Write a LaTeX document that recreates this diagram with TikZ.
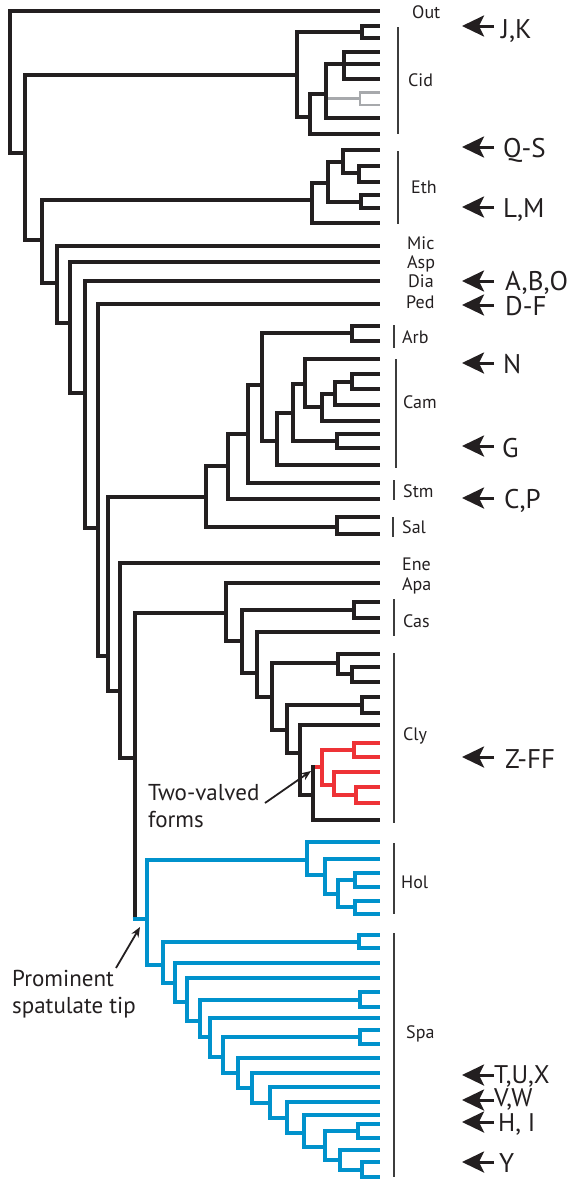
\documentclass[tikz,border=0pt]{standalone}
\usepackage{fontspec}
\setmainfont{PT Sans}
\usetikzlibrary{arrows.meta}
\definecolor{ink}{HTML}{231F20}
\definecolor{sky}{HTML}{0092CC}
\definecolor{flame}{HTML}{EE3236}
\definecolor{ash}{HTML}{A7A9AC}
\definecolor{barc}{HTML}{3C3C3C}

% rectangular cladogram edges: parent |- child
\newcommand\kids[3][]{\foreach \c in {#3}{\draw[br,#1] (#2) |- (\c);}}
% clade bar beside the tips
\newcommand\cladebar[3]{\draw[cbar] (#1,#2) -- (#1,#3);}
% arrow pointing at a tip with a letter label
\newcommand\lettermark[6][]{%
  \coordinate (#2h) at (462,#3);
  \coordinate (#2t) at (494,#3);
  \node[big,#1] (#2) at (#4,#5) {#6};
  \draw[ptr] (#2t) -- (#2h);}

\begin{document}
\begin{tikzpicture}[x=1pt,y=-1pt,
  br/.style={line width=4.7pt, draw=ink, line join=miter},
  cbar/.style={line width=2.4pt, draw=barc},
  small/.style={font=\fontsize{18}{20}\selectfont, text=ink, inner sep=0pt,
    text height=12.6pt, text depth=0pt, anchor=west},
  big/.style={font=\fontsize{27}{30}\selectfont, text=ink, inner sep=0pt,
    text height=18.9pt, text depth=0pt, anchor=west},
  tight/.style={font=\fontsize{25.5}{28}\selectfont, text height=17.8pt},
  note/.style={font=\fontsize{23}{27}\selectfont, text=ink, inner sep=0pt, anchor=base west},
  ptr/.style={line width=3pt, draw=ink, -{Stealth[length=22pt, width=21pt, inset=5pt]}},
  noteptr/.style={line width=1.8pt, draw=ink, -{Stealth[length=10pt, width=8pt]}},
]
\useasboundingbox (0,0) rectangle (569,1181);

% ---- tips ----
\foreach \n/\y in {tOut/11, tC1/26, tC2/38, tC3/52, tC4/64, tC5/79, tG1/92.5, tG2/105,
  tC6/118, tC7/134, tE1/150, tE2/166, tE3/182, tE4/195, tE5/208, tE6/223,
  tMic/246, tAsp/262, tDia/281, tPed/304, tA1/326, tA2/341,
  tM1/359, tM2/374, tM3/389, tM4/405, tM5/421, tM6/434, tM7/448, tM8/465,
  tS1/483, tS2/499, tL1/517, tL2/534, tEne/563, tApa/583,
  tK1/602, tK2/618, tK3/632, tY1/654, tY2/667, tY3/682, tY4/697, tY5/713, tY6/725,
  tR1/743, tR2/757, tR3/772, tR4/787, tR5/803, tY7/820,
  tH1/842, tH2/859, tH3/873, tH4/887, tH5/901, tH6/914,
  tP1/935, tP2/948, tP3/963, tP4/978, tP5/992, tP6/1007, tP7/1018, tP8/1030,
  tP9/1044, tP10/1058, tP11/1073, tP12/1087, tP13/1102, tP14/1115, tP15/1124,
  tP16/1138, tP17/1150, tP18/1162, tP19/1177}
  \coordinate (\n) at (380,\y);

% ---- internal nodes ----
\foreach \n/\x/\y in {
  r/10/80, n1/25/153, nCid/297/75, c1/362/32, c2/310/117, c3/326/94, c4/344/64, g/360/98.5,
  n2/42/240, nEth/312/200, e1/328/183, e2/343/162, e4/359/173, e3/361/202,
  n3/57/283, n4/70/323, n5/85/393, n6/98/528, n7/108/656,
  nAS/206/497, nCS/228/466, nCam/248/434, n10/262/385, nArb/352/333, n11/277/441,
  n12/293/413, n13/305/384, n14/322/407, n15/335/394, nCh2/352/382, nCh1/337/441,
  nSal/337/527,
  n8/120/691, n9/135/758, nCC/226/613, n16/242/641, nCas/354/610, n17/257/673,
  n18/272/697, n19/338/663, nCh3/352/674, n20/287/730, nCh4/362/705, n21/300/753,
  n22/313/795, nRed/322/767, nR1/354/750, nR2/334/785, nR3/356/795,
  nB/147/919, nHol/307/860, h1/325/875, h2/338/894, hc1/355/880, hc2/355/907,
  nSpa/163/965, sc1/359/942, s1/175/983, s2/187/1002, s3/200/1021, sc2/360/1000,
  s4/210/1037, s5/223/1057, sc3/360/1037, s6/238/1073, s7/252/1088, s8/270/1103,
  s9/287/1118, s10/304/1133, s11/325/1147, sc4/358/1131, s12/340/1160, sc5/362/1170}
  \coordinate (\n) at (\x,\y);

% ---- outgroup and Cid ----
\kids{r}{tOut,n1}
\kids{n1}{nCid,n2}
\kids{nCid}{c1,c2}
\kids{c1}{tC1,tC2}
\kids{c2}{c3,tC7}
\draw[br,line width=2.8pt,draw=ash] (c3 |- g) -- (g);
\kids[line width=2.8pt,draw=ash]{g}{tG1,tG2}
\kids{c3}{c4,tC6}
\kids{c4}{tC3,tC4,tC5}

% ---- Eth and the backbone ----
\kids{n2}{nEth,n3}
\kids{nEth}{e1,tE6}
\kids{e1}{e2,e3}
\kids{e2}{tE1,e4}
\kids{e4}{tE2,tE3}
\kids{e3}{tE4,tE5}
\kids{n3}{tMic,n4}
\kids{n4}{tAsp,n5}
\kids{n5}{tDia,n6}
\kids{n6}{tPed,n7}
\kids{n7}{nAS,n8}

% ---- Arb, Cam, Stm, Sal ----
\kids{nAS}{nCS,nSal}
\kids{nCS}{nCam,tS2}
\kids{nCam}{n10,tS1}
\kids{n10}{nArb,n11}
\kids{nArb}{tA1,tA2}
\kids{n11}{n12,tM8}
\kids{n12}{n13,nCh1}
\kids{n13}{tM1,n14}
\kids{n14}{n15,tM5}
\kids{n15}{nCh2,tM4}
\kids{nCh2}{tM2,tM3}
\kids{nCh1}{tM6,tM7}
\kids{nSal}{tL1,tL2}

% ---- Ene, Apa, Cas, Cly ----
\kids{n8}{tEne,n9}
\kids{n9}{nCC}
\kids{nCC}{tApa,n16}
\kids{n16}{nCas,n17}
\kids{nCas}{tK1,tK2}
\kids{n17}{tK3,n18}
\kids{n18}{n19,n20}
\kids{n19}{tY1,nCh3}
\kids{nCh3}{tY2,tY3}
\kids{n20}{nCh4,n21}
\kids{nCh4}{tY4,tY5}
\kids{n21}{tY6,n22}
\kids{n22}{tY7}
% two-valved forms (red)
\draw[br,draw=flame] (n22 |- nRed) -- (nRed);
\draw[br,line cap=rect] (n22) -- (n22 |- nRed);
\kids[draw=flame]{nRed}{nR1,nR2}
\kids[draw=flame]{nR1}{tR1,tR2}
\kids[draw=flame]{nR2}{tR3,nR3}
\kids[draw=flame]{nR3}{tR4,tR5}

% ---- spatulate-tip clade (blue) ----
\coordinate (jB) at (n9 |- nB);
\draw[br] (n9) -- ([yshift=2.3pt]jB);
\draw[br,draw=sky] ([xshift=-2.35pt]jB) -- (nB);
\kids[draw=sky]{nB}{nHol,nSpa}
\kids[draw=sky]{nHol}{tH1,h1}
\kids[draw=sky]{h1}{tH2,h2}
\kids[draw=sky]{h2}{hc1,hc2}
\kids[draw=sky]{hc1}{tH3,tH4}
\kids[draw=sky]{hc2}{tH5,tH6}
\kids[draw=sky]{nSpa}{sc1,s1}
\kids[draw=sky]{sc1}{tP1,tP2}
\kids[draw=sky]{s1}{tP3,s2}
\kids[draw=sky]{s2}{tP4,s3}
\kids[draw=sky]{s3}{sc2,s4}
\kids[draw=sky]{sc2}{tP5,tP6}
\kids[draw=sky]{s4}{tP7,s5}
\kids[draw=sky]{s5}{sc3,s6}
\kids[draw=sky]{sc3}{tP8,tP9}
\kids[draw=sky]{s6}{tP10,s7}
\kids[draw=sky]{s7}{tP11,s8}
\kids[draw=sky]{s8}{tP12,s9}
\kids[draw=sky]{s9}{tP13,s10}
\kids[draw=sky]{s10}{tP14,s11}
\kids[draw=sky]{s11}{sc4,s12}
\kids[draw=sky]{sc4}{tP15,tP16}
\kids[draw=sky]{s12}{tP17,sc5}
\kids[draw=sky]{sc5}{tP18,tP19}

% ---- clade bars ----
\cladebar{398}{27}{134}
\cladebar{398}{151}{224}
\cladebar{394}{325}{348}
\cladebar{396}{359}{468}
\cladebar{394}{480}{500}
\cladebar{393}{517}{537}
\cladebar{394}{599}{636}
\cladebar{394}{653}{823}
\cladebar{394}{843}{914}
\cladebar{394}{933}{1177}

% ---- clade names ----
\node[small] (lOut) at (412,12) {Out};
\node[small] (lCid) at (408,80) {Cid};
\node[small] (lEth) at (411,187) {Eth};
\node[small] (lMic) at (407,243) {Mic};
\node[small] (lAsp) at (407,262) {Asp};
\node[small] (lDia) at (408,281) {Dia};
\node[small] (lPed) at (406,302) {Ped};
\node[small] (lArb) at (402,337) {Arb};
\node[small] (lCam) at (403,402) {Cam};
\node[small] (lStm) at (403,491) {Stm};
\node[small] (lSal) at (402,527) {Sal};
\node[small] (lEne) at (402,564) {Ene};
\node[small] (lApa) at (402,584) {Apa};
\node[small] (lCas) at (403,621) {Cas};
\node[small] (lCly) at (403,734) {Cly};
\node[small] (lHol) at (401,882) {Hol};
\node[small] (lSpa) at (406,1032) {Spa};

% ---- letter markers ----
\lettermark{mJK}{26}{501}{29}{J,K}
\lettermark{mQS}{147}{503}{148}{Q-S}
\lettermark{mLM}{207}{503}{208}{L,M}
\lettermark{mABO}{281}{505}{281}{A,B,O}
\lettermark{mDF}{305}{505}{306}{D-F}
\lettermark{mN}{363}{503}{364}{N}
\lettermark{mG}{446}{502}{448}{G}
\lettermark{mCP}{498}{504}{499}{C,P}
\lettermark{mZFF}{757}{505}{759}{Z-FF}
\lettermark[tight]{mTUX}{1075}{494}{1075}{T,U,X}
\lettermark[tight]{mVW}{1100}{494}{1098}{V,W}
\lettermark[tight]{mHI}{1122}{498}{1123}{H, I}
\lettermark{mY}{1162}{499}{1163}{Y}

% ---- annotations ----
\node[note] (tv1) at (148,800) {Two-valved};
\node[note] (tv2) at (148,827) {forms};
\coordinate (tvT) at (265,803);
\coordinate (tvH) at (311,771);
\draw[noteptr] (tvT) -- (tvH);
\node[note] (ps1) at (12,986) {Prominent};
\node[note] (ps2) at (12,1013) {spatulate tip};
\coordinate (psT) at (116,968);
\coordinate (psH) at (140,927);
\draw[noteptr] (psT) -- (psH);
\end{tikzpicture}
\end{document}
